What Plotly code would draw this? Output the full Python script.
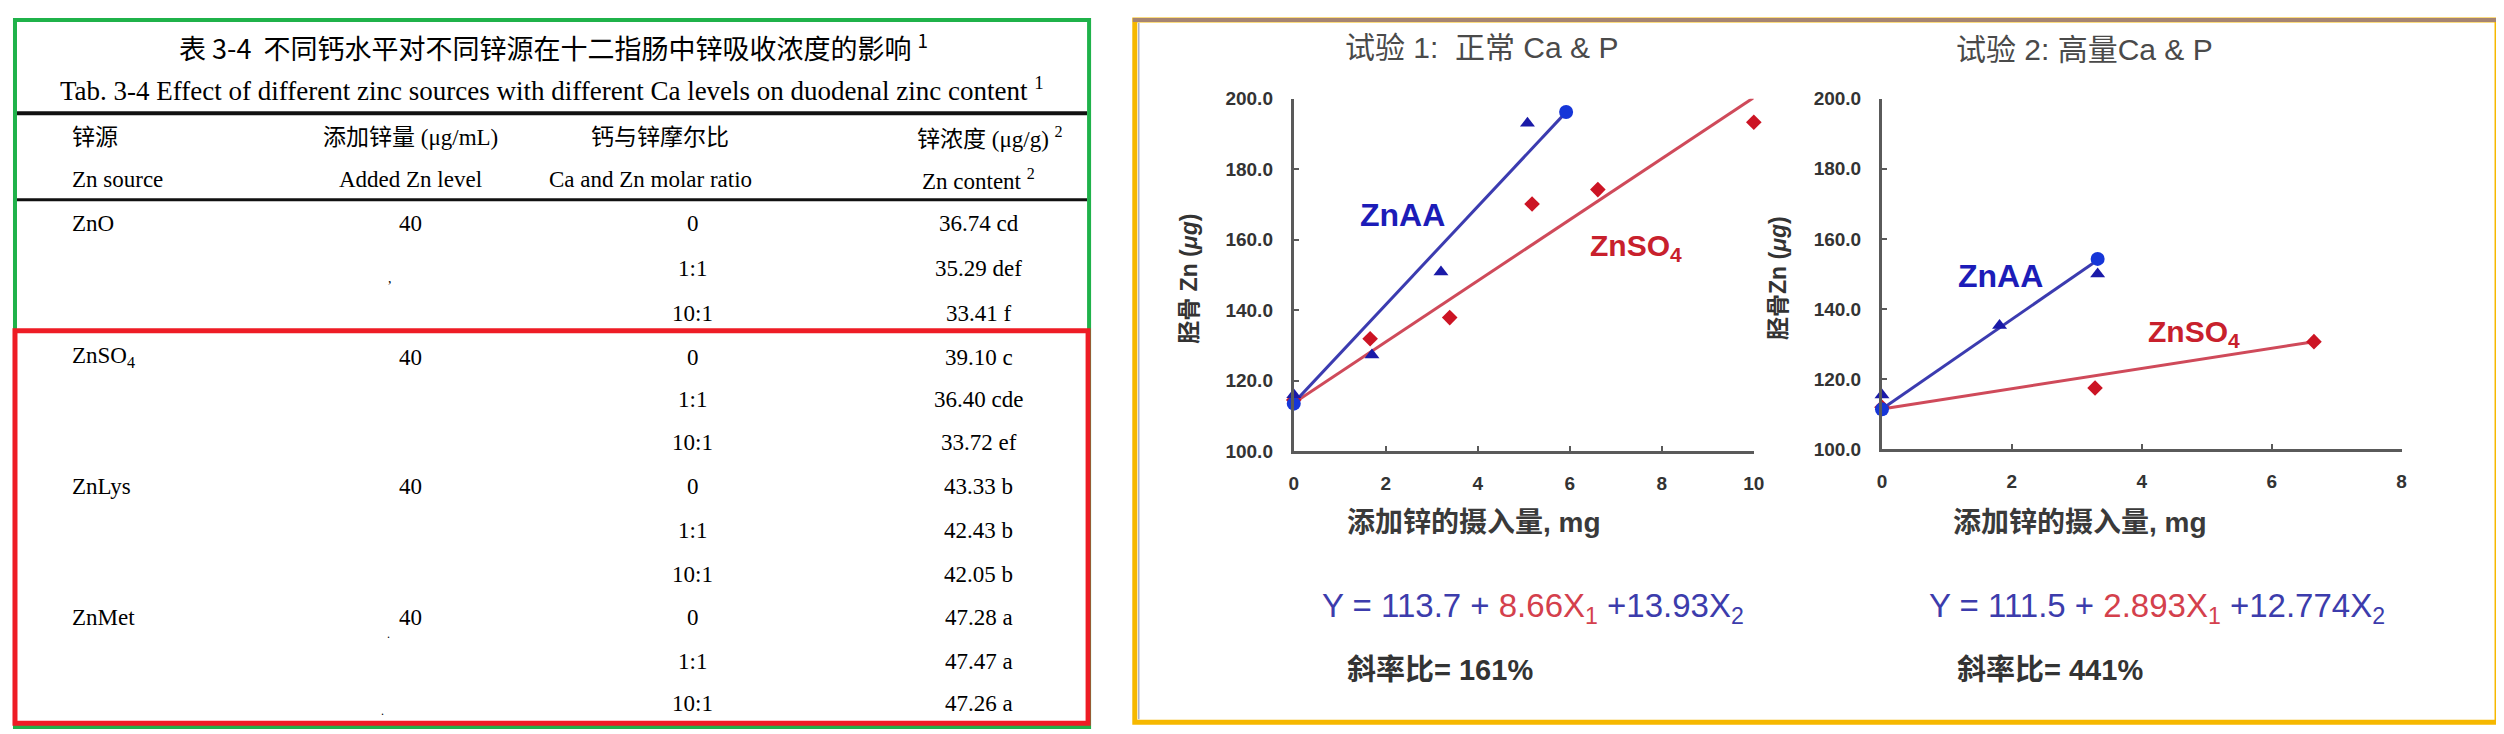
import plotly.graph_objects as go

W, H = 2504, 734


def px(x):
    return x / W


def py(y):
    return 1 - y / H


# ---------------- table data ----------------
table_title_cn = "表 3-4  不同钙水平对不同锌源在十二指肠中锌吸收浓度的影响 <sup>1</sup>"
table_title_en = "Tab. 3-4 Effect of different zinc sources with different Ca levels on duodenal zinc content <sup>1</sup>"
header_cn = ["锌源", "添加锌量 (μg/mL)", "钙与锌摩尔比", "锌浓度 (μg/g) <sup>2</sup>"]
header_en = ["Zn source", "Added Zn level", "Ca and Zn molar ratio", "Zn content <sup>2</sup>"]
zn_sources = ["ZnO", "ZnSO<sub>4</sub>", "ZnLys", "ZnMet"]
added_zn = [40, 40, 40, 40]
ca_zn_ratios = ["0", "1:1", "10:1"]
zn_content = [36.74, 35.29, 33.41, 39.10, 36.40, 33.72, 43.33, 42.43, 42.05, 47.28, 47.47, 47.26]
zn_letters = ["cd", "def", "f", "c", "cde", "ef", "b", "b", "b", "a", "a", "a"]

# ---------------- chart data ----------------
# Trial 1 : normal Ca & P
t1_aa_tri_x = [0, 1.7, 3.2, 5.08]
t1_aa_tri_y = [116.0, 127.3, 150.8, 193.0]
t1_aa_circ_x = [0, 5.92]
t1_aa_circ_y = [113.5, 196.2]
t1_so4_x = [0, 1.66, 3.39, 5.18, 6.61, 10, 10]
t1_so4_y = [114.5, 131.9, 137.9, 170.1, 174.2, 193.3, 200.1]
t1_aa_line_x = [0, 5.88]
t1_aa_line_y = [113.7, 195.6]
t1_so4_line_x = [0, 10]
t1_so4_line_y = [113.7, 200.3]

# Trial 2 : high Ca & P
t2_aa_tri_x = [0, 1.81, 3.32]
t2_aa_tri_y = [115.5, 135.3, 150.0]
t2_aa_circ_x = [0, 3.32]
t2_aa_circ_y = [111.4, 154.3]
t2_so4_x = [0, 3.28, 6.65]
t2_so4_y = [112.0, 117.5, 130.7]
t2_aa_line_x = [0, 3.3]
t2_aa_line_y = [111.5, 153.7]
t2_so4_line_x = [0, 6.65]
t2_so4_line_y = [111.5, 130.7]

y_ticks = [100, 120, 140, 160, 180, 200]

BLUE_M = "#1a1aa8"
BLUE_C = "#1636d8"
BLUE_L = "#3b3bb0"
RED_M = "#cc1424"
RED_L = "#cf4a5a"
AX = "#5a5a5a"

fig = go.Figure()


def add_chart(xa, ya, tri_x, tri_y, circ_x, circ_y, so4_x, so4_y, aal_x, aal_y, sol_x, sol_y):
    common = dict(xaxis=xa, yaxis=ya, showlegend=False, cliponaxis=False, hoverinfo="skip")
    fig.add_trace(go.Scatter(x=sol_x, y=sol_y, mode="lines", line=dict(color=RED_L, width=3), **common))
    fig.add_trace(go.Scatter(x=aal_x, y=aal_y, mode="lines", line=dict(color=BLUE_L, width=3), **common))
    fig.add_trace(go.Scatter(x=so4_x, y=so4_y, mode="markers",
                             marker=dict(symbol="diamond", size=12, color=RED_M), **common))
    fig.add_trace(go.Scatter(x=circ_x, y=circ_y, mode="markers",
                             marker=dict(symbol="circle", size=14, color=BLUE_C), **common))
    fig.add_trace(go.Scatter(x=tri_x, y=tri_y, mode="markers",
                             marker=dict(symbol="triangle-up", size=13, color=BLUE_M), **common))


add_chart("x", "y", t1_aa_tri_x, t1_aa_tri_y, t1_aa_circ_x, t1_aa_circ_y, t1_so4_x, t1_so4_y,
          t1_aa_line_x, t1_aa_line_y, t1_so4_line_x, t1_so4_line_y)
add_chart("x2", "y2", t2_aa_tri_x, t2_aa_tri_y, t2_aa_circ_x, t2_aa_circ_y, t2_so4_x, t2_so4_y,
          t2_aa_line_x, t2_aa_line_y, t2_so4_line_x, t2_so4_line_y)

tickfont = dict(family="Liberation Sans, Arial, sans-serif", size=19, color="#333333", weight="bold")
axis_common = dict(showgrid=False, zeroline=False, showline=True, linecolor=AX, linewidth=3,
                   ticks="inside", ticklen=5, tickwidth=2, tickcolor=AX, tickfont=tickfont,
                   fixedrange=True)

fig.update_layout(
    width=W, height=H,
    margin=dict(l=0, r=0, t=0, b=0),
    paper_bgcolor="white", plot_bgcolor="white",
    xaxis=dict(domain=[px(1289), px(1752)], range=[0, 10], tickvals=[0, 2, 4, 6, 8, 10],
               ticklabelstandoff=13, anchor="y", **axis_common),
    yaxis=dict(domain=[py(446), py(83)], range=[100, 200], tickvals=y_ticks, tickformat=".1f",
               ticklabelstandoff=14, anchor="x", **axis_common),
    xaxis2=dict(domain=[px(1881), px(2404)], range=[0, 8], tickvals=[0, 2, 4, 6, 8],
                ticklabelstandoff=13, anchor="y2", **axis_common),
    yaxis2=dict(domain=[py(444), py(83)], range=[100, 200], tickvals=y_ticks, tickformat=".1f",
                ticklabelstandoff=14, anchor="x2", **axis_common),
)

ann = []


def text(x, y, s, size, family, color="#000000", xanchor="center", weight="normal", angle=0):
    ann.append(dict(x=px(x), y=py(y), xref="paper", yref="paper", text=s, showarrow=False,
                    xanchor=xanchor, yanchor="middle", textangle=angle, borderpad=0,
                    font=dict(size=size, family=family, color=color, weight=weight)))


SERIF = "Liberation Serif, Times New Roman, Noto Sans CJK SC"
CJK = "Noto Sans CJK SC"
SANS = "Liberation Sans, Arial, Noto Sans CJK SC"

# ---- table ----
text(544, 29, table_title_cn, 27, CJK)
text(542, 73, table_title_en, 27, SERIF)
text(58, 123, header_cn[0], 23, SERIF, xanchor="left")
text(400, 123, header_cn[1], 23, SERIF)
text(651, 123, header_cn[2], 23, SERIF)
text(983, 123, header_cn[3], 23, SERIF)
text(58, 166, header_en[0], 23, SERIF, xanchor="left")
text(400, 166, header_en[1], 23, SERIF)
text(642, 166, header_en[2], 23, SERIF)
text(972, 166, header_en[3], 23, SERIF)

row_y = [212, 258, 304, 349, 393, 437, 482, 528, 573, 617, 662, 706]
for g, src in enumerate(zn_sources):
    text(58, row_y[g * 3], src, 23, SERIF, xanchor="left")
    text(400, row_y[g * 3], str(added_zn[g]), 23, SERIF)
    for k, r in enumerate(ca_zn_ratios):
        i = g * 3 + k
        text(684, row_y[i], r, 23, SERIF)
        text(972, row_y[i], f"{zn_content[i]:.2f} {zn_letters[i]}", 23, SERIF)
# scan specks
text(379, 268, ",", 14, SERIF)
text(378, 634, ".", 12, SERIF)
text(372, 713, ".", 12, SERIF)

# ---- charts ----
text(1478, 30, "试验 1:  正常 Ca &amp; P", 30, SANS, color="#4a4a4a")
text(2085, 32, "试验 2: 高量Ca &amp; P", 30, SANS, color="#4a4a4a")
text(1184, 268, "胫骨 Zn (<i>μg</i>)", 23, SANS, color="#333333", weight="bold", angle=-90)
text(1777, 268, "胫骨Zn (<i>μg</i>)", 23, SANS, color="#333333", weight="bold", angle=-90)
text(1470, 519, "添加锌的摄入量, mg", 28, SANS, color="#3a3a3a", weight="bold")
text(2080, 519, "添加锌的摄入量, mg", 28, SANS, color="#3a3a3a", weight="bold")
text(1398, 203, "ZnAA", 32, SANS, color="#1c1cb8", weight="bold")
text(2000, 266, "ZnAA", 32, SANS, color="#1c1cb8", weight="bold")
text(1633, 236, "ZnSO<sub>4</sub>", 30, SANS, color="#c8202c", weight="bold")
text(2195, 325, "ZnSO<sub>4</sub>", 30, SANS, color="#c8202c", weight="bold")

BL = "#3c3cac"
RD = "#d4404c"
text(1530, 607,
     f"<span style='color:{BL}'>Y = 113.7 + </span><span style='color:{RD}'>8.66X<sub>1</sub></span>"
     f"<span style='color:{BL}'> +13.93X<sub>2</sub></span>", 33, SANS)
text(2158, 607,
     f"<span style='color:{BL}'>Y = 111.5 + </span><span style='color:{RD}'>2.893X<sub>1</sub></span>"
     f"<span style='color:{BL}'> +12.774X<sub>2</sub></span>", 33, SANS)
text(1436, 671, "斜率比= 161%", 29, SANS, color="#333333", weight="bold")
text(2050, 671, "斜率比= 441%", 29, SANS, color="#333333", weight="bold")

fig.update_layout(annotations=ann)

# ---- shapes (rules and frames) ----
shapes = [
    dict(type="line", xref="paper", yref="paper", x0=px(4), x1=px(1081), y0=py(98), y1=py(98),
         line=dict(color="#111111", width=4)),
    dict(type="line", xref="paper", yref="paper", x0=px(4), x1=px(1081), y0=py(187), y1=py(187),
         line=dict(color="#111111", width=3)),
    dict(type="rect", xref="paper", yref="paper", x0=px(2), x1=px(1083), y0=py(730), y1=py(2),
         line=dict(color="#1fb24a", width=4)),
    dict(type="rect", xref="paper", yref="paper", x0=px(2), x1=px(1082), y0=py(726), y1=py(322),
         line=dict(color="#ee1c25", width=5)),
    dict(type="rect", xref="paper", yref="paper", x0=px(1129), x1=px(2500), y0=py(725), y1=py(2),
         line=dict(color="#f6b800", width=5)),
    dict(type="line", xref="paper", yref="paper", x0=px(1127), x1=px(2502), y0=py(2), y1=py(2),
         line=dict(color="#a58472", width=4)),
    dict(type="line", xref="paper", yref="paper", x0=px(1133), x1=px(1133), y0=py(722), y1=py(5),
         line=dict(color="#aab0cc", width=1.5)),
]
fig.update_layout(shapes=shapes)

fig.write_html("out.html")
